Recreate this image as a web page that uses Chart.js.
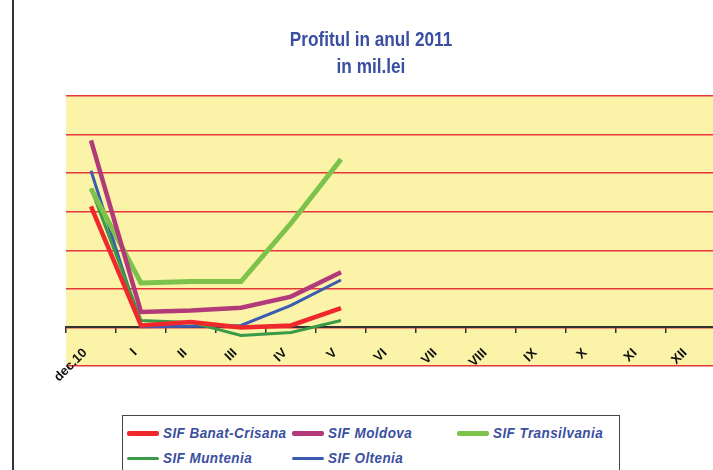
<!DOCTYPE html>
<html>
<head>
<meta charset="utf-8">
<script src="https://cdn.jsdelivr.net/npm/chart.js@4"></script>
<style>
  body { margin: 0; width: 713px; height: 470px; overflow: hidden; background: #fff; position: relative; font-family: "Liberation Sans", Arial, sans-serif; }
  #wrap { position: absolute; left: 0; top: 0; width: 716px; height: 470px; }
  #edge { position: absolute; left: 12px; top: 0; width: 2px; height: 470px; background: #34343f; }
  .title { position: absolute; left: 171px; width: 400px; text-align: center; color: #3b4fa0; font-weight: bold; font-size: 20px; transform: scaleX(0.86); line-height: 20px; }
  #legend { position: absolute; left: 122px; top: 415px; width: 496px; height: 70px; border: 1.5px solid #444; background: #fff; }
  .item { position: absolute; height: 20px; display: flex; align-items: center; }
  .swatch { width: 32px; margin-right: 4px; border-radius: 2px; }
  .label { color: #3b4fa0; font-weight: bold; font-style: italic; font-size: 15.5px; letter-spacing: 0.5px; transform: scaleX(0.87); transform-origin: left center; white-space: nowrap; }
</style>
</head>
<body>
<div id="wrap"><canvas id="chart" width="716" height="470"></canvas></div>
<div id="edge"></div>
<div class="title" style="top:29px">Profitul in anul 2011</div>
<div class="title" style="top:56px">in mil.lei</div>
<div id="legend"></div>
<script>
const categories = ["dec.10", "I", "II", "III", "IV", "V", "VI", "VII", "VIII", "IX", "X", "XI", "XII"];

const banatCrisana = [3.14, 0.05, 0.14, 0.0, 0.05, 0.5];
const moldova = [4.85, 0.4, 0.44, 0.51, 0.8, 1.43];
const transilvania = [3.6, 1.15, 1.19, 1.19, 2.7, 4.36];
const muntenia = [3.6, 0.18, 0.13, -0.21, -0.13, 0.18];
const oltenia = [4.06, 0.02, 0.03, 0.05, 0.57, 1.23];

const series = [
  { label: "SIF Banat-Crisana", data: banatCrisana, color: "#f0282c", width: 4.5 },
  { label: "SIF Moldova", data: moldova, color: "#b23a7a", width: 4.5 },
  { label: "SIF Transilvania", data: transilvania, color: "#7cc24b", width: 5 },
  { label: "SIF Muntenia", data: muntenia, color: "#3a9a48", width: 3 },
  { label: "SIF Oltenia", data: oltenia, color: "#3b5bb3", width: 3 },
];

const plotBackground = {
  id: "plotBackground",
  beforeDraw(chart) {
    const { ctx, chartArea } = chart;
    ctx.save();
    ctx.fillStyle = "#faf3a8";
    ctx.fillRect(chartArea.left, chartArea.top, chartArea.right - chartArea.left, chartArea.bottom - chartArea.top);
    ctx.restore();
  },
};

const chart = new Chart(document.getElementById("chart").getContext("2d"), {
  type: "line",
  data: {
    labels: categories,
    datasets: series.map((s) => ({
      label: s.label,
      data: s.data,
      borderColor: s.color,
      backgroundColor: s.color,
      borderWidth: s.width,
      pointRadius: 0,
      tension: 0,
      fill: false,
    })),
  },
  options: {
    responsive: false,
    animation: false,
    layout: { padding: { left: 66, right: 0, top: 96, bottom: 104 } },
    plugins: {
      legend: { display: false },
      title: { display: false },
      tooltip: { enabled: false },
    },
    scales: {
      x: {
        position: { y: 0 },
        offset: true,
        grid: { offset: true, drawOnChartArea: false, drawTicks: true, tickLength: 5, color: "#333", lineWidth: 1.5 },
        border: { color: "#333", width: 2 },
        ticks: {
          autoSkip: false,
          minRotation: 45,
          maxRotation: 45,
          padding: 13,
          labelOffset: -6,
          color: "#111",
          font: { family: "Liberation Sans", size: 13, weight: "bold" },
        },
      },
      y: {
        min: -1,
        max: 6,
        ticks: { display: false, stepSize: 1 },
        grid: { color: "#e8353a", lineWidth: 1.5, drawTicks: false },
        border: { display: false },
      },
    },
  },
  plugins: [plotBackground],
});

const legend = document.getElementById("legend");
const spots = [[4, 7], [169, 7], [334, 7], [4, 32], [169, 32]];
chart.data.datasets.forEach((ds, i) => {
  const item = document.createElement("div");
  item.className = "item";
  item.style.left = spots[i][0] + "px";
  item.style.top = spots[i][1] + "px";
  item.innerHTML = '<div class="swatch" style="height:' + Math.round(ds.borderWidth) + "px;background:" + ds.borderColor + '"></div><span class="label">' + ds.label + "</span>";
  legend.appendChild(item);
});
</script>
</body>
</html>
